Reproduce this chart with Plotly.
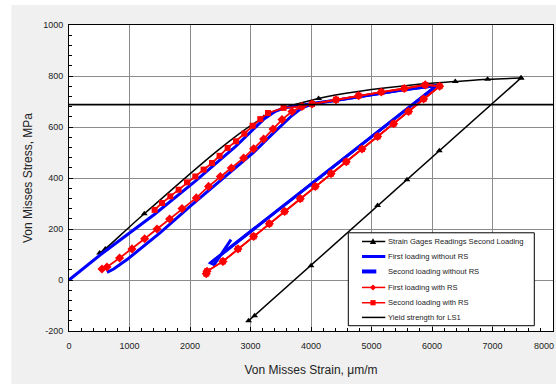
import plotly.graph_objects as go

# ---------------- data ----------------
# Strain gauge readings, second loading (black, triangles)
sg_load_strain = [506, 600, 1245, 3217, 4126, 5889, 6385, 6919, 7471]
sg_load_stress = [106, 122, 260, 637, 712, 770, 778, 787, 792]
sg_unload_strain = [7471, 6121, 5587, 5101, 4000, 3068, 2969]
sg_unload_stress = [792, 507, 393, 292, 56, -140, -160]

# First loading without RS (blue, solid)
b1_strain = [628, 738, 959, 1233, 1509, 2005, 2500, 3051, 3372, 3686, 3851, 4017,
             4500, 5000, 5500, 6083, 2339]
b1_stress = [30, 43, 80, 132, 186, 290, 390, 500, 575, 645, 675, 690,
             708, 727, 745, 763, 67]

# Second loading without RS (blue, dashed)
b2_strain = [0, 519, 1415, 2088, 2760, 3217, 3400, 3547, 3800, 4017,
             4500, 5000, 5500, 6083, 2339, 2400, 2678]
b2_stress = [0, 99, 258, 388, 525, 630, 660, 674, 683, 692,
             708, 727, 745, 763, 67, 60, 158]

# shared hardening + unloading path of the runs with RS
hard_strain = [4413, 4787, 5162, 5542, 5889, 6126]
hard_stress = [707, 723, 737, 751, 765, 760]
unl_strain = [5861, 5613, 5366, 5101, 4843, 4583, 4331, 4071, 3823, 3564, 3311, 3051, 2793, 2545, 2281, 2269]
unl_stress = [710, 661, 613, 563, 514, 464, 417, 367, 319, 269, 221, 171, 122, 73, 34, 25]

# First loading with RS (red, diamonds)
r1_strain = [545, 628, 836, 1041, 1250, 1455, 1663, 1868, 2104, 2307, 2501, 2683, 2886,
             3051, 3217, 3372, 3521, 3686, 3851, 4017] + hard_strain + unl_strain
r1_stress = [43, 51, 86, 122, 162, 200, 239, 280, 322, 367, 406, 439, 478,
             515, 553, 592, 629, 661, 681, 690] + hard_stress + unl_stress

# Second loading with RS (red, squares)
r2_strain = [1415, 1537, 1674, 1812, 1950, 2088, 2225, 2364, 2489, 2622, 2760, 2898, 3035,
             3162, 3289, 3547, 3840, 4017] + hard_strain + unl_strain
r2_stress = [275, 302, 328, 354, 383, 406, 433, 459, 487, 518, 544, 574, 605,
             631, 655, 675, 680, 690] + hard_stress + unl_stress

# Yield strength for LS1
yield_strength = 688
yield_strain = [0, 8000]

x_ticks = [0, 1000, 2000, 3000, 4000, 5000, 6000, 7000]
x_last_tick = 8000
y_ticks = [-200, 0, 200, 400, 600, 800, 1000]

legend_names = ["Strain Gages Readings Second Loading", "First loading without RS",
                "Second loading without RS", "First loading with RS",
                "Second loading with RS", "Yield strength for LS1"]

# ---------------- figure ----------------
BLUE = "#0000ff"
RED = "#ff0000"
FONT = "Liberation Sans, Arial, sans-serif"
fig = go.Figure()

fig.add_trace(go.Scatter(
    x=sg_load_strain, y=sg_load_stress, mode="lines+markers", line_shape="spline",
    line=dict(color="black", width=1.5), marker=dict(symbol="triangle-up", size=6, color="black"),
    name=legend_names[0]))
fig.add_trace(go.Scatter(
    x=sg_unload_strain, y=sg_unload_stress, mode="lines+markers",
    line=dict(color="black", width=1.5), marker=dict(symbol="triangle-up", size=6, color="black"),
    name=legend_names[0]))
fig.add_trace(go.Scatter(
    x=b1_strain, y=b1_stress, mode="lines", line=dict(color=BLUE, width=3),
    name=legend_names[1]))
fig.add_trace(go.Scatter(
    x=b2_strain, y=b2_stress, mode="lines", line=dict(color=BLUE, width=3),
    name=legend_names[2]))
fig.add_trace(go.Scatter(
    x=r1_strain, y=r1_stress, mode="lines+markers", line=dict(color=RED, width=1.8),
    marker=dict(symbol="diamond", size=7, color=RED), name=legend_names[3]))
fig.add_trace(go.Scatter(
    x=r2_strain, y=r2_stress, mode="lines+markers", line=dict(color=RED, width=1.8),
    marker=dict(symbol="square", size=6, color=RED), name=legend_names[4]))
fig.add_trace(go.Scatter(
    x=yield_strain, y=[yield_strength] * len(yield_strain), mode="lines",
    line=dict(color="black", width=1.8), name=legend_names[5]))

L, R, T, B = 68.7, 3.3, 25, 52.7
PW, PH = 556 - L - R, 384 - T - B


def px(xp):
    return (xp - L) / PW


def py(yp):
    return (384 - B - yp) / PH


shapes = [
    # white strips around the grey chart area
    dict(type="rect", xref="paper", yref="paper", x0=px(-5), x1=px(11), y0=py(400), y1=py(-10),
         fillcolor="white", line=dict(width=0), layer="below"),
    dict(type="rect", xref="paper", yref="paper", x0=px(-5), x1=px(560), y0=py(5), y1=py(-10),
         fillcolor="white", line=dict(width=0), layer="below"),
    # legend box
    dict(type="rect", xref="paper", yref="paper", x0=px(348), x1=px(534), y0=py(326), y1=py(233),
         fillcolor="white", line=dict(color="black", width=1), layer="above"),
]
annotations = []

# legend drawn inside the box (samples + real text)
item_y = [241.7, 256.7, 271.7, 287.7, 303.0, 317.7]
samples = [
    dict(color="black", width=1.5, x1=385, marker="triangle"),
    dict(color=BLUE, width=3, x1=385, marker=None),
    dict(color=BLUE, width=4, x1=376, marker=None),
    dict(color=RED, width=1.5, x1=385, marker="diamond"),
    dict(color=RED, width=1.5, x1=385, marker="square"),
    dict(color="black", width=1.5, x1=385, marker=None),
]
for name, yc, s in zip(legend_names, item_y, samples):
    shapes.append(dict(type="line", xref="paper", yref="paper", x0=px(361.7), x1=px(s["x1"]),
                       y0=py(yc), y1=py(yc), line=dict(color=s["color"], width=s["width"]),
                       layer="above"))
    mx = 372.7
    if s["marker"] == "triangle":
        path = "M {} {} L {} {} L {} {} Z".format(px(mx - 3.2), py(yc + 2.5), px(mx + 3.2), py(yc + 2.5),
                                                   px(mx), py(yc - 3.3))
        shapes.append(dict(type="path", xref="paper", yref="paper", path=path,
                           fillcolor="black", line=dict(width=0), layer="above"))
    elif s["marker"] == "diamond":
        path = "M {} {} L {} {} L {} {} L {} {} Z".format(px(mx - 3), py(yc), px(mx), py(yc - 3),
                                                           px(mx + 3), py(yc), px(mx), py(yc + 3))
        shapes.append(dict(type="path", xref="paper", yref="paper", path=path,
                           fillcolor=RED, line=dict(width=0), layer="above"))
    elif s["marker"] == "square":
        shapes.append(dict(type="rect", xref="paper", yref="paper", x0=px(mx - 2.6), x1=px(mx + 2.6),
                           y0=py(yc + 2.6), y1=py(yc - 2.6), fillcolor=RED, line=dict(width=0),
                           layer="above"))
    annotations.append(dict(text=name, xref="paper", yref="paper", x=px(385.5), y=py(yc),
                            xanchor="left", yanchor="middle", showarrow=False,
                            font=dict(family=FONT, size=7.6, color="#222")))

# last x tick label at the right edge of the chart (kept fully inside the picture)
annotations.append(dict(text=str(x_last_tick), x=px(555), xref="paper", y=py(346.7), yref="paper",
                        xanchor="right", yanchor="middle", showarrow=False, borderpad=0,
                        font=dict(family=FONT, size=9, color="#222")))

axis_common = dict(
    showline=True, linecolor="black", linewidth=1, mirror=True,
    showgrid=True, gridcolor="#8c8c8c", gridwidth=1, zeroline=False,
    ticks="inside", ticklen=4, tickcolor="black",
    tickfont=dict(family=FONT, size=9, color="#222"),
)

fig.update_layout(
    width=556, height=384,
    margin=dict(l=L, r=R, t=T, b=B),
    paper_bgcolor="#f0f0f0", plot_bgcolor="white",
    font=dict(family=FONT, color="#222"),
    xaxis=dict(range=[0, 8000], tickvals=x_ticks, ticktext=[str(v) for v in x_ticks],
               minor=dict(ticks="inside", ticklen=3, dtick=200, tickcolor="black", showgrid=False),
               ticklabelstandoff=6,
               title=dict(text="Von Misses Strain, μm/m", font=dict(size=12), standoff=15),
               **axis_common),
    yaxis=dict(range=[-200, 1000], tickvals=y_ticks, ticktext=[str(v) for v in y_ticks],
               minor=dict(ticks="inside", ticklen=3, dtick=40, tickcolor="black", showgrid=False),
               ticklabelstandoff=3,
               title=dict(text="Von Misses Stress, MPa", font=dict(size=12), standoff=7),
               **axis_common),
    shapes=shapes,
    annotations=annotations,
    showlegend=False,
)

fig.write_html("out.html", config={"displayModeBar": False},
               post_script="document.body.style.margin='0';")
